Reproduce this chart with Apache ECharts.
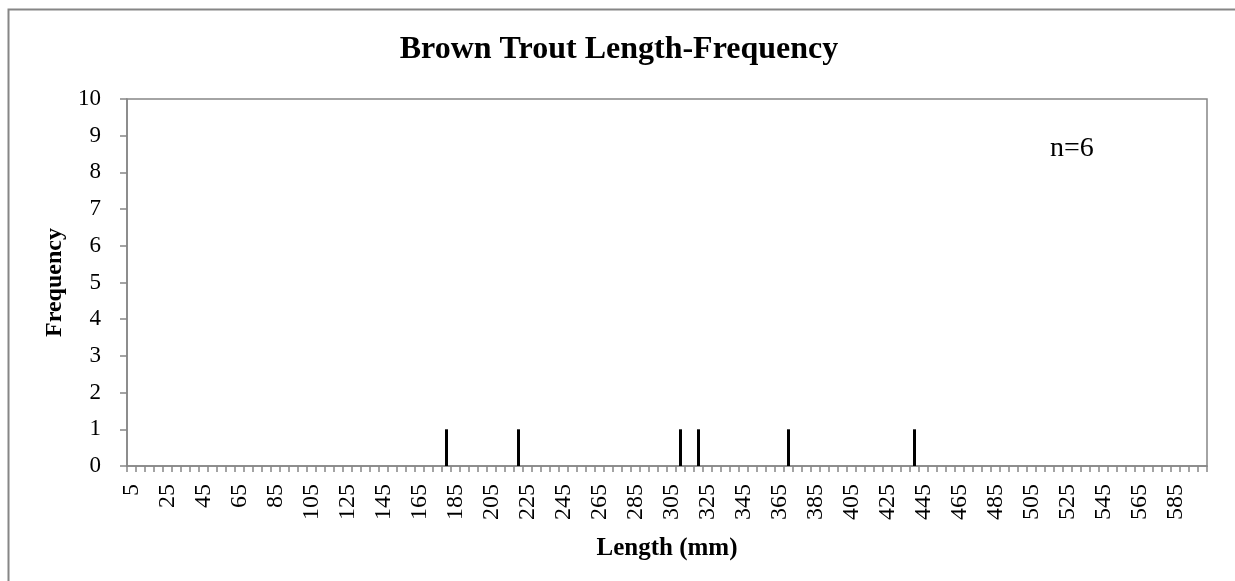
<!DOCTYPE html>
<html>
<head>
<meta charset="utf-8">
<script src="https://cdn.jsdelivr.net/npm/echarts@6/dist/echarts.min.js"></script>
<style>
html,body{margin:0;padding:0;background:#fff;}
#chart{width:1235px;height:581px;}
</style>
</head>
<body>
<div id="chart"></div>
<script>
// Length classes (mm), 5 mm bins
const lengths = [];
for (let v = 5; v <= 600; v += 5) lengths.push(String(v));
// Observed fish lengths (mm), one fish each
const fishLengths = [180, 220, 310, 320, 370, 440];
const fishCounts = [1, 1, 1, 1, 1, 1];
const freqByLength = {};
fishLengths.forEach((l, i) => { freqByLength[l] = (freqByLength[l] || 0) + fishCounts[i]; });
const frequency = lengths.map(l => freqByLength[+l] || 0);
const yTicks = [0, 10, 1]; // min, max, interval

const serif = '"Liberation Serif", "Times New Roman", serif';
const axisGray = '#868686';

const chart = echarts.init(document.getElementById('chart'));
chart.setOption({
  animation: false,
  backgroundColor: '#fff',
  title: {
    text: 'Brown Trout Length-Frequency',
    left: 614, top: 29, textAlign: 'center',
    textStyle: { fontFamily: serif, fontWeight: 'bold', fontSize: 32, color: '#000' }
  },
  graphic: [
    { type: 'rect', left: 6, top: 7, shape: { width: 1300, height: 700 },
      style: { fill: 'none', stroke: axisGray, lineWidth: 2 }, silent: true },
    { type: 'text', left: 1050, top: 135,
      style: { text: 'n=6', fontFamily: serif, fontSize: 28, fill: '#000' } }
  ],
  grid: { left: 127, right: 28, top: 99, bottom: 115, show: true, borderColor: axisGray, borderWidth: 1.5 },
  xAxis: {
    type: 'category',
    data: lengths,
    boundaryGap: true,
    name: 'Length (mm)',
    nameLocation: 'middle',
    nameGap: 70,
    nameTextStyle: { fontFamily: serif, fontWeight: 'bold', fontSize: 25, color: '#000' },
    axisLine: { lineStyle: { color: axisGray, width: 1.5 } },
    axisTick: { show: true, interval: 0, length: 6, lineStyle: { color: axisGray, width: 1.5 } },
    axisLabel: { interval: 3, rotate: 90, margin: 18, fontFamily: serif, fontSize: 24, color: '#000' },
    splitLine: { show: false }
  },
  yAxis: {
    type: 'value',
    min: yTicks[0], max: yTicks[1], interval: yTicks[2],
    name: 'Frequency',
    nameLocation: 'middle',
    nameGap: 58,
    nameRotate: 90,
    nameTextStyle: { fontFamily: serif, fontWeight: 'bold', fontSize: 24, color: '#000' },
    axisLine: { show: true, lineStyle: { color: axisGray, width: 1.5 } },
    axisTick: { show: true, length: 7, lineStyle: { color: axisGray, width: 1.5 } },
    axisLabel: { margin: 26, fontFamily: serif, fontSize: 23, color: '#000' },
    splitLine: { show: false }
  },
  series: [{
    type: 'bar',
    data: frequency,
    barWidth: 3,
    itemStyle: { color: '#000' }
  }]
});
</script>
</body>
</html>
